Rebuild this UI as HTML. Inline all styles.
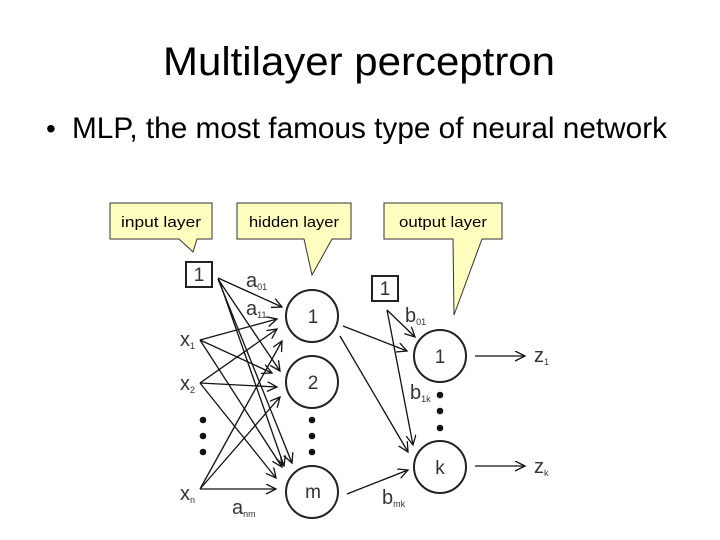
<!DOCTYPE html>
<html><head><meta charset="utf-8"><style>
html,body{margin:0;padding:0;background:#fff;}
svg{display:block;}
</style></head><body>
<svg width="720" height="540" viewBox="0 0 720 540" xmlns="http://www.w3.org/2000/svg">
<defs>
<marker id="ah" markerWidth="12" markerHeight="12" refX="10" refY="5" orient="auto" markerUnits="userSpaceOnUse">
<path d="M0,0 L10,5 L0,10" fill="none" stroke="#111" stroke-width="1.3"/>
</marker>
</defs>
<text x="359" y="75" font-family="Liberation Sans, sans-serif" font-size="40" text-anchor="middle" textLength="392" lengthAdjust="spacingAndGlyphs" fill="#000">Multilayer perceptron</text>
<text x="46" y="138" font-family="Liberation Sans, sans-serif" font-size="28" fill="#000">•</text>
<text x="72" y="138" font-family="Liberation Sans, sans-serif" font-size="30" textLength="595" lengthAdjust="spacingAndGlyphs" fill="#000">MLP, the most famous type of neural network</text>

<g fill="#ffffc0" stroke="#333" stroke-width="1">
<path d="M110,203 H212 V239 H197 L193,252 L179,239 H110 Z"/>
<path d="M237,203 H351 V239 H332 L312,275 L304,239 H237 Z"/>
<path d="M384,203 H502 V239 H482 L454,315 L453,239 H384 Z"/>
</g>
<g font-family="Liberation Sans, sans-serif" font-size="15" fill="#000" text-anchor="middle">
<text x="161" y="227" textLength="80" lengthAdjust="spacingAndGlyphs">input layer</text>
<text x="294" y="227" textLength="90" lengthAdjust="spacingAndGlyphs">hidden layer</text>
<text x="443" y="227" textLength="88" lengthAdjust="spacingAndGlyphs">output layer</text>
</g>

<g fill="#fff" stroke="#222" stroke-width="2">
<rect x="186" y="262" width="26" height="25"/>
<rect x="372" y="276" width="26" height="25"/>
<circle cx="312" cy="316" r="26"/>
<circle cx="312" cy="382" r="26"/>
<circle cx="312" cy="492" r="26"/>
<circle cx="440" cy="356" r="26"/>
<circle cx="440" cy="467" r="26"/>
</g>
<g font-family="Liberation Sans, sans-serif" font-size="19" fill="#333" text-anchor="middle">
<text x="199" y="281">1</text>
<text x="385" y="295">1</text>
<text x="313" y="323">1</text>
<text x="313" y="389">2</text>
<text x="313" y="498">m</text>
<text x="440" y="363">1</text>
<text x="440" y="474">k</text>
</g>

<g stroke="#111" stroke-width="1.3" fill="none" marker-end="url(#ah)">
<line x1="218" y1="278" x2="282" y2="307"/>
<line x1="218" y1="279" x2="280" y2="371"/>
<line x1="218" y1="279" x2="292" y2="463"/>
<line x1="219" y1="280" x2="284" y2="466"/>
<line x1="200" y1="340" x2="277" y2="319"/>
<line x1="200" y1="340" x2="272" y2="373"/>
<line x1="200" y1="340" x2="282" y2="467"/>
<line x1="200" y1="383" x2="277" y2="329"/>
<line x1="200" y1="383" x2="277" y2="387"/>
<line x1="200" y1="383" x2="276" y2="478"/>
<line x1="200" y1="489" x2="282" y2="341"/>
<line x1="200" y1="489" x2="280" y2="397"/>
<line x1="200" y1="489" x2="276" y2="489"/>
<line x1="343" y1="326" x2="407" y2="351"/>
<line x1="340" y1="336" x2="408" y2="452"/>
<line x1="347" y1="494" x2="408" y2="470"/>
<line x1="387" y1="310" x2="415" y2="337"/>
<line x1="387" y1="310" x2="413" y2="445"/>
<line x1="475" y1="356" x2="525" y2="356"/>
<line x1="475" y1="466" x2="525" y2="466"/>
</g>

<g fill="#111">
<circle cx="203" cy="420" r="3.3"/><circle cx="203" cy="436" r="3.3"/><circle cx="203" cy="452" r="3.3"/>
<circle cx="312" cy="420" r="3.3"/><circle cx="312" cy="436" r="3.3"/><circle cx="312" cy="452" r="3.3"/>
<circle cx="440" cy="395" r="3.3"/><circle cx="440" cy="411" r="3.3"/><circle cx="440" cy="428" r="3.3"/>
</g>

<g font-family="Liberation Sans, sans-serif" font-size="20" fill="#333">
<text x="180" y="346">x<tspan font-size="9" dy="3">1</tspan></text>
<text x="180" y="390">x<tspan font-size="9" dy="3">2</tspan></text>
<text x="180" y="500">x<tspan font-size="9" dy="3">n</tspan></text>
<text x="246" y="287">a<tspan font-size="9" dy="3">01</tspan></text>
<text x="246" y="315">a<tspan font-size="9" dy="3">11</tspan></text>
<text x="232" y="514">a<tspan font-size="9" dy="3">nm</tspan></text>
<text x="405" y="322">b<tspan font-size="9" dy="3">01</tspan></text>
<text x="410" y="399">b<tspan font-size="9" dy="3">1k</tspan></text>
<text x="382" y="504">b<tspan font-size="9" dy="3">mk</tspan></text>
<text x="534" y="362">z<tspan font-size="9" dy="3">1</tspan></text>
<text x="534" y="473">z<tspan font-size="9" dy="3">k</tspan></text>
</g>
</svg>
</body></html>
